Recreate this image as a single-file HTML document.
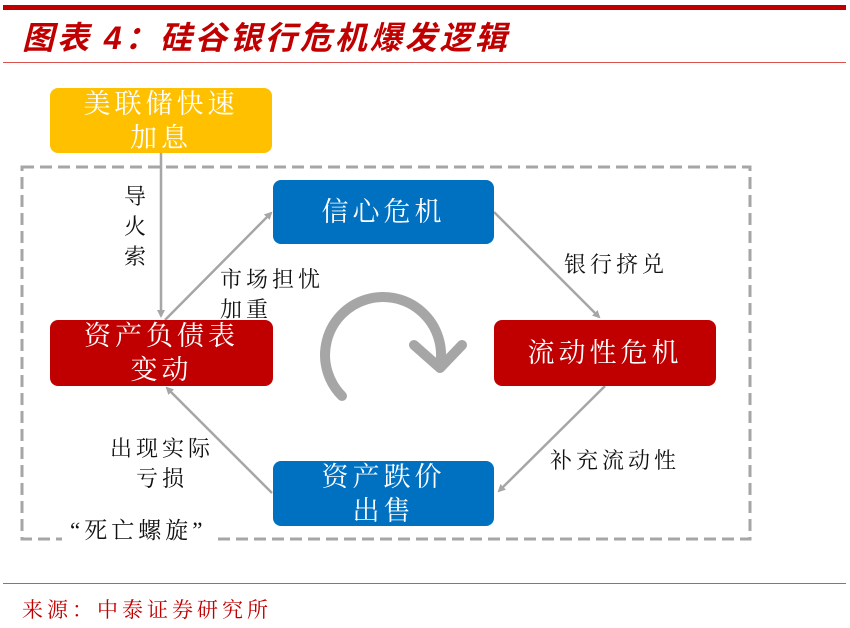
<!DOCTYPE html>
<html><head><meta charset="utf-8"><style>
body{margin:0;width:850px;height:628px;background:#fff;position:relative;overflow:hidden;font-family:"Liberation Serif","Noto Serif CJK SC",serif}
.a{position:absolute}
.box{position:absolute;border-radius:8px;color:#fff;font-size:27px;letter-spacing:4px;line-height:34px;text-align:center;display:flex;align-items:center;justify-content:center}
.lb{position:absolute;font-size:22px;letter-spacing:4px;line-height:30px;color:#111}
</style></head><body>
<div class="a" style="left:3px;top:5px;width:843px;height:5px;background:#C00000"></div>
<div class="a" style="left:22px;top:13px;font-size:32px;letter-spacing:3px;font-weight:bold;font-style:italic;color:#C00000;font-family:'Liberation Sans','Noto Sans CJK SC',sans-serif">图表 4：硅谷银行危机爆发逻辑</div>
<div class="a" style="left:3px;top:62px;width:843px;height:1px;background:#D9534F"></div>
<svg class="a" style="left:0;top:0" width="850" height="628">
<defs><marker id="m" markerWidth="8" markerHeight="8" refX="6" refY="4" orient="auto" markerUnits="userSpaceOnUse" viewBox="0 0 8 8"><path d="M0,0 L8,4 L0,8 Z" fill="#A6A6A6"/></marker></defs>
<rect x="22" y="167" width="728" height="372" fill="none" stroke="#A6A6A6" stroke-width="3" stroke-dasharray="12,6"/>
<g stroke="#A6A6A6" stroke-width="2.5" fill="none">
<line x1="161" y1="153" x2="161" y2="316" marker-end="url(#m)"/>
<line x1="165" y1="320" x2="271" y2="213" marker-end="url(#m)"/>
<line x1="494" y1="212" x2="599" y2="317" marker-end="url(#m)"/>
<line x1="605" y1="386" x2="499" y2="491" marker-end="url(#m)"/>
<line x1="272" y1="493" x2="167" y2="388" marker-end="url(#m)"/>
</g>
<path d="M342,396 A58,58 0 1 1 440,366" stroke="#A6A6A6" stroke-width="10" fill="none" stroke-linecap="round"/>
<path d="M414,345 L440,368 L462,345" stroke="#A6A6A6" stroke-width="10" fill="none" stroke-linecap="round" stroke-linejoin="round"/>
</svg>
<div class="box" style="left:50px;top:88px;width:222px;height:65px;background:#FFC000">美联储快速<br>加息</div>
<div class="box" style="left:273px;top:180px;width:221px;height:64px;background:#0070C0">信心危机</div>
<div class="box" style="left:50px;top:320px;width:223px;height:66px;background:#C00000">资产负债表<br>变动</div>
<div class="box" style="left:494px;top:320px;width:222px;height:66px;background:#C00000">流动性危机</div>
<div class="box" style="left:273px;top:461px;width:221px;height:65px;background:#0070C0">资产跌价<br>出售</div>
<div class="lb" style="left:124px;top:182px;width:24px;line-height:30px">导<br>火<br>索</div>
<div class="lb" style="left:220px;top:265px">市场担忧<br>加重</div>
<div class="lb" style="left:564px;top:250px">银行挤兑</div>
<div class="lb" style="left:550px;top:446px">补充流动性</div>
<div class="lb" style="left:110px;top:434px;text-align:center">出现实际<br>亏损</div>
<div class="lb" style="left:62px;top:516px;background:#fff;padding:0 8px;font-size:23px">“死亡螺旋”</div>
<div class="a" style="left:3px;top:583px;width:843px;height:1px;background:#D9534F"></div>
<div class="a" style="left:22px;top:594px;font-size:21px;letter-spacing:4px;color:#C00000">来源：中泰证券研究所</div>
</body></html>
